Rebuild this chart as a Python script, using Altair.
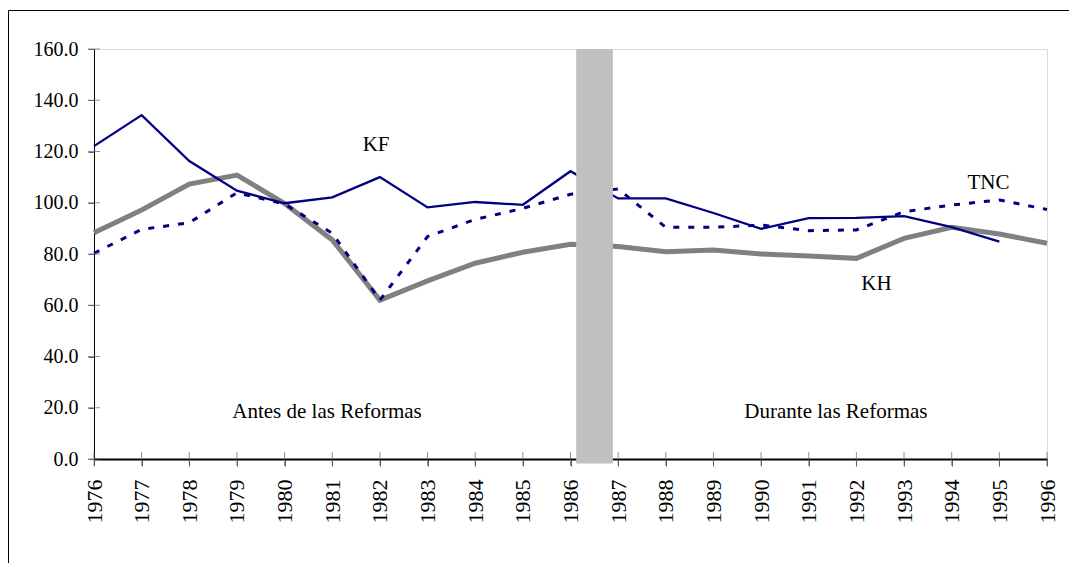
import altair as alt
import pandas as pd

years = list(range(1976, 1997))
kf = [122.1, 134.2, 116.3, 104.7, 99.8, 102.1, 110.0, 98.2, 100.3, 99.2, 112.3,
      101.7, 101.7, 96.0, 89.8, 94.0, 94.1, 94.8, 90.5, 84.8, None]
tnc = [80.3, 89.6, 92.2, 103.9, 99.5, 88.1, 62.0, 86.8, 93.5, 97.8, 103.3,
       105.4, 90.4, 90.4, 91.3, 89.1, 89.4, 96.5, 99.1, 101.1, 97.4]
kh = [88.3, 97.2, 107.3, 110.8, 99.7, 85.5, 62.0, 69.5, 76.4, 80.7, 83.8,
      82.9, 80.9, 81.6, 80.0, 79.2, 78.3, 86.1, 90.4, 87.8, 84.2]
y_ticks = [0, 20, 40, 60, 80, 100, 120, 140, 160]

# reform period band (data coords)
band_x = [1986.12]
band_x2 = [1986.89]

# annotations
ann_text = ["KF", "TNC", "KH", "Antes de las Reformas", "Durante las Reformas"]
ann_x = [1981.92, 1994.77, 1992.42, 1980.89, 1991.57]
ann_y = [122.5, 107.7, 68.3, 18.5, 18.5]

FONT = "Liberation Serif"

df = pd.DataFrame({"year": years, "KF": kf, "TNC": tnc, "KH": kh})
ann = pd.DataFrame({"t": ann_text, "x": ann_x, "y": ann_y})
band = pd.DataFrame({"x": band_x, "x2": band_x2, "y": [160], "y2": [-1.8]})
xt = pd.DataFrame({"year": years})
yt = pd.DataFrame({"v": y_ticks})

xs = alt.Scale(domain=[1976, 1996], nice=False, zero=False)
ys = alt.Scale(domain=[0, 160], nice=False)

xaxis = alt.Axis(values=years, format="d", labelAngle=270, tickSize=7, labelPadding=13,
                 domainWidth=2, domainColor="black", tickColor="#606060",
                 labelFont=FONT, labelFontSize=22, labelColor="black", grid=False, title=None)
yaxis = alt.Axis(values=y_ticks, format=".1f", tickSize=6, labelPadding=10,
                 domainWidth=1, domainColor="black", tickColor="#606060",
                 labelFont=FONT, labelFontSize=20, labelColor="black", grid=False, title=None)

base = alt.Chart(df)

kh_line = base.mark_line(color="#808080", strokeWidth=5).encode(
    x=alt.X("year:Q", scale=xs, axis=xaxis),
    y=alt.Y("KH:Q", scale=ys, axis=yaxis),
)
tnc_line = base.mark_line(color="#000080", strokeWidth=3, strokeDash=[6, 9]).encode(
    x=alt.X("year:Q", scale=xs), y=alt.Y("TNC:Q", scale=ys)
)
kf_line = base.transform_filter("isValid(datum.KF)").mark_line(color="#000080", strokeWidth=2.3).encode(
    x=alt.X("year:Q", scale=xs), y=alt.Y("KF:Q", scale=ys)
)

band_rect = alt.Chart(band).mark_rect(color="#c0c0c0", opacity=1).encode(
    x=alt.X("x:Q", scale=xs), x2="x2:Q", y=alt.Y("y:Q", scale=ys), y2="y2:Q"
)

xticks = alt.Chart(xt).mark_tick(orient="vertical", size=14, thickness=1, color="#606060").encode(
    x=alt.X("year:Q", scale=xs), y=alt.datum(0, scale=ys)
)
yticks = alt.Chart(yt).mark_tick(orient="horizontal", size=12, thickness=1, color="#606060").encode(
    y=alt.Y("v:Q", scale=ys), x=alt.datum(1976, scale=xs)
)

labels = alt.Chart(ann).mark_text(font=FONT, fontSize=21, color="black",
                                  align="center", baseline="middle").encode(
    x=alt.X("x:Q", scale=xs), y=alt.Y("y:Q", scale=ys), text="t:N"
)

frame = alt.Chart(ann).transform_filter("datum.t == 'KF'").mark_rect(
    fill=None, stroke="black", strokeWidth=1
).encode(x=alt.value(-85.5), x2=alt.value(1200), y=alt.value(-38.5), y2=alt.value(700))

chart = alt.layer(
    kh_line, tnc_line, kf_line, band_rect, xticks, yticks, labels, frame
).properties(
    width=953, height=410,
    autosize=alt.AutoSizeParams(type="none"),
    padding={"left": 86, "top": 41, "right": 22, "bottom": 104},
).configure_view(stroke="#808080", strokeWidth=1).configure(background="white")

chart.save("out.html", embed_options={"renderer": "svg", "actions": False})
